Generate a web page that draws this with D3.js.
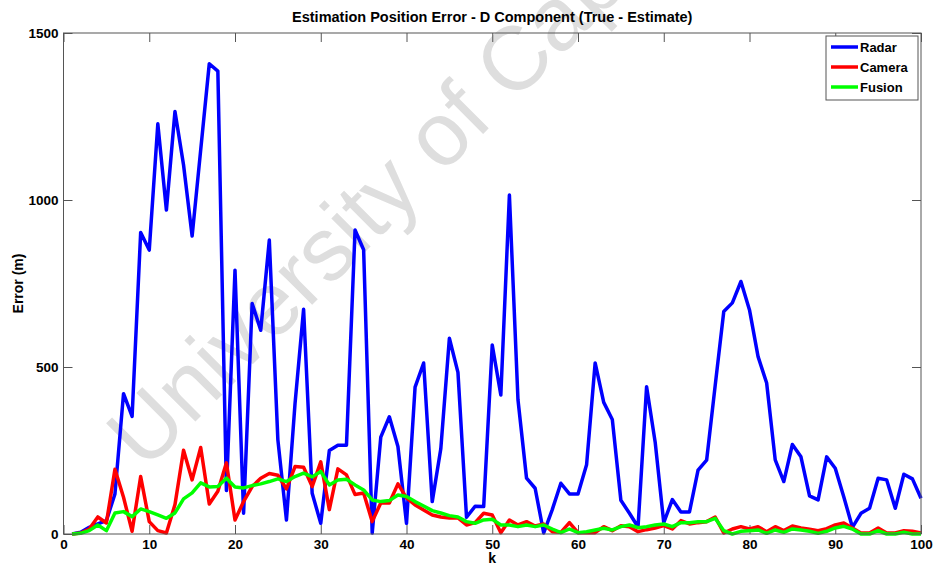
<!DOCTYPE html>
<html lang="en">
<head>
<meta charset="UTF-8"/>
<title>Estimation Position Error - D Component</title>
<script src="https://d3js.org/d3.v7.min.js"></script>
<style>
	body { margin: 0; background: white; }
	text { font-family: "Liberation Sans", Arial, sans-serif; font-weight: bold; }
	.line { fill: none; stroke-width: 3.5; stroke-linejoin: round; }
	.frame { fill: none; stroke: #555; stroke-width: 1; }
	.tick line { stroke: #555; }
	.domain { display: none; }
</style>
</head>
<body>
<div id="chart"></div>
<script>
// time step k = 1..100
var kValues = d3.range(1, 101);

var radar = [0, 5, 20, 30, 40, 120, 420, 352, 903, 850,
	1228, 970, 1265, 1105, 892, 1150, 1408, 1386, 130, 790,
	62, 690, 610, 880, 282, 42, 390, 673, 122, 32,
	250, 266, 266, 910, 851, 3, 290, 351, 262, 32,
	440, 512, 97, 255, 586, 484, 50, 83, 82, 566,
	416, 1015, 402, 167, 137, 3, 73, 152, 120, 120,
	207, 512, 394, 343, 101, 62, 21, 441, 275, 34,
	103, 66, 66, 191, 221, 445, 666, 692, 756, 671,
	531, 452, 222, 157, 268, 231, 114, 102, 231, 197,
	111, 20, 62, 77, 167, 162, 77, 179, 165, 107];

var camera = [0, 3, 15, 51, 33, 194, 110, 8, 172, 37,
	10, 3, 88, 251, 162, 259, 90, 128, 213, 42,
	97, 142, 167, 181, 176, 135, 202, 200, 142, 216,
	73, 195, 177, 118, 123, 37, 93, 93, 150, 108,
	87, 72, 57, 51, 48, 48, 27, 34, 62, 57,
	4, 42, 27, 37, 24, 30, 7, 5, 34, 4,
	4, 4, 22, 10, 25, 22, 7, 13, 18, 25,
	15, 40, 30, 34, 37, 51, 3, 15, 22, 15,
	22, 7, 22, 10, 24, 18, 14, 10, 16, 27,
	33, 18, 3, 3, 18, 3, 3, 10, 8, 3];

var fusion = [0, 2, 10, 27, 10, 63, 67, 52, 75, 67,
	57, 47, 63, 105, 123, 153, 141, 142, 167, 141,
	138, 145, 150, 157, 165, 157, 172, 182, 171, 187,
	147, 162, 164, 147, 132, 102, 97, 100, 117, 112,
	97, 84, 70, 63, 55, 51, 37, 32, 42, 44,
	27, 27, 22, 27, 22, 27, 15, 4, 15, 4,
	7, 12, 17, 12, 22, 27, 19, 22, 27, 30,
	22, 34, 34, 37, 37, 47, 10, 0, 8, 10,
	12, 2, 12, 5, 15, 12, 8, 2, 8, 18,
	23, 15, 0, 0, 10, 0, 0, 5, 0, 0];

var seriesNames = ["Radar", "Camera", "Fusion"];
var seriesColors = ["#0000ff", "#ff0000", "#00ff00"];
var xTicks = [0, 10, 20, 30, 40, 50, 60, 70, 80, 90, 100];
var yTicks = [0, 500, 1000, 1500];

var W = 935, H = 567;
var margin = {top: 33, right: 14, bottom: 33, left: 63.5};
var w = W - margin.left - margin.right;
var h = H - margin.top - margin.bottom;

var svg = d3.select("#chart").append("svg")
	.attr("width", W)
	.attr("height", H);

// watermark
svg.append("text")
	.attr("transform", "translate(145,472) rotate(-45)")
	.attr("fill", "#dedede")
	.style("font-weight", "normal")
	.style("font-size", "90px")
	.text("University of Cape Town");

var g = svg.append("g")
	.attr("transform", "translate(" + margin.left + "," + margin.top + ")");

var xScale = d3.scaleLinear().domain([0, 100]).range([0, w]);
var yScale = d3.scaleLinear().domain([0, 1500]).range([h, 0]);

// axes, MATLAB style ticks pointing inward on all four sides
var xAxis = d3.axisBottom(xScale).tickValues(xTicks).tickFormat(d3.format("d"))
	.tickSizeInner(-9).tickSizeOuter(0).tickPadding(5);
var yAxis = d3.axisLeft(yScale).tickValues(yTicks).tickFormat(d3.format("d"))
	.tickSizeInner(-9).tickSizeOuter(0).tickPadding(5);

g.append("g").attr("transform", "translate(0," + h + ")").call(xAxis)
	.selectAll("text").style("font-size", "13.5px").attr("fill", "#000");
g.append("g").call(yAxis)
	.selectAll("text").style("font-size", "13.5px").attr("fill", "#000");
g.append("g").call(d3.axisTop(xScale).tickValues(xTicks).tickSizeInner(-9).tickSizeOuter(0).tickFormat(""));
g.append("g").attr("transform", "translate(" + w + ",0)")
	.call(d3.axisRight(yScale).tickValues(yTicks).tickSizeInner(-9).tickSizeOuter(0).tickFormat(""));

var line = d3.line()
	.x(function(d, i) { return xScale(kValues[i]); })
	.y(function(d) { return yScale(d); });

[radar, camera, fusion].forEach(function(s, i) {
	g.append("path")
		.datum(s)
		.attr("class", "line")
		.attr("stroke", seriesColors[i])
		.attr("d", line);
});

g.append("rect").attr("class", "frame")
	.attr("width", w).attr("height", h);

// legend
var legend = g.append("g").attr("transform", "translate(" + (w - 95) + ",3)");
legend.append("rect")
	.attr("width", 92).attr("height", 64)
	.attr("fill", "white").attr("stroke", "#555");
seriesNames.forEach(function(name, i) {
	var yy = 11 + i * 20;
	legend.append("line")
		.attr("x1", 5).attr("x2", 32)
		.attr("y1", yy).attr("y2", yy)
		.attr("stroke", seriesColors[i]).attr("stroke-width", 3.5);
	legend.append("text")
		.attr("x", 34).attr("y", yy + 5)
		.style("font-size", "13px")
		.text(name);
});

// title and labels
svg.append("text")
	.attr("x", margin.left + w / 2).attr("y", 22)
	.attr("text-anchor", "middle")
	.style("font-size", "14.5px")
	.text("Estimation Position Error - D Component (True - Estimate)");

svg.append("text")
	.attr("x", margin.left + w / 2).attr("y", 563)
	.attr("text-anchor", "middle")
	.style("font-size", "14px")
	.text("k");

svg.append("text")
	.attr("transform", "translate(23," + (margin.top + h / 2) + ") rotate(-90)")
	.attr("text-anchor", "middle")
	.style("font-size", "14px")
	.text("Error (m)");
</script>
</body>
</html>
